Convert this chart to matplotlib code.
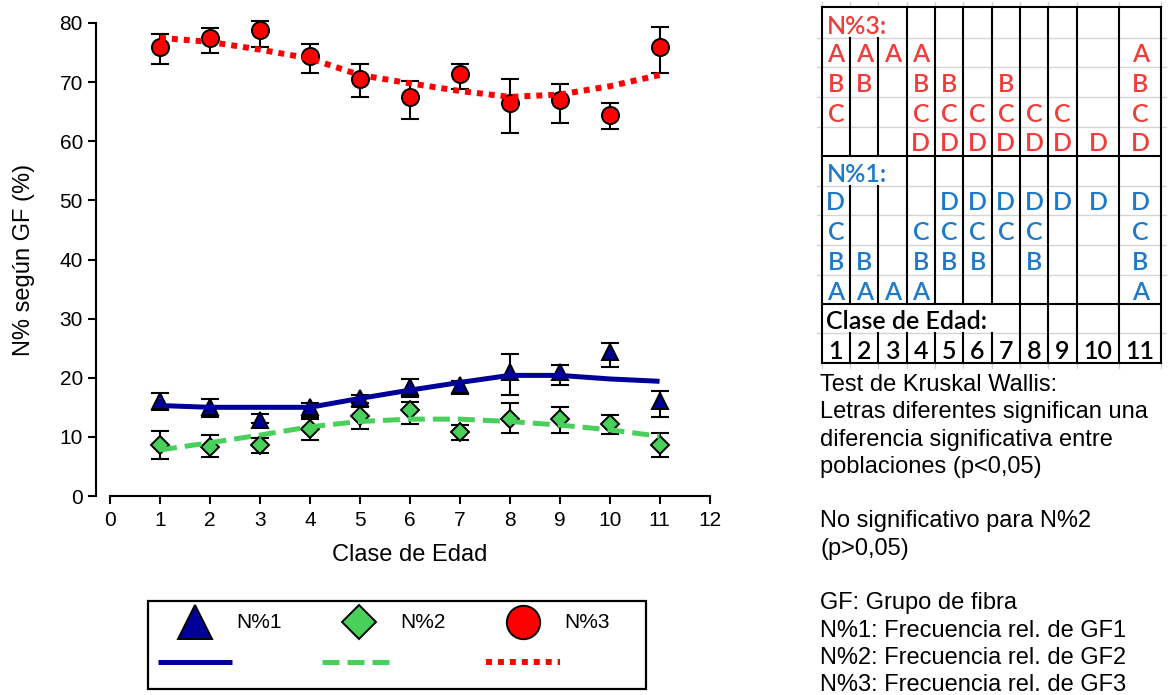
import matplotlib
matplotlib.use("Agg")
import matplotlib.pyplot as plt

plt.rcParams['font.family'] = ['Liberation Sans', 'DejaVu Sans']

# ------------------------------------------------------------------
# Data
# ------------------------------------------------------------------
age = [1, 2, 3, 4, 5, 6, 7, 8, 9, 10, 11]

# N%1 (blue triangles)
n1 = [16.0, 15.0, 12.9, 15.0, 16.5, 18.4, 18.8, 21.0, 20.9, 24.4, 16.1]
n1_lo = [14.5, 13.4, 12.3, 13.3, 15.8, 16.8, 17.2, 17.1, 18.8, 21.9, 13.4]
n1_hi = [17.5, 16.4, 13.8, 15.7, 17.1, 19.8, 19.4, 24.0, 22.2, 25.9, 17.8]
n1_fit = [15.3, 15.0, 15.0, 15.0, 16.5, 17.9, 19.2, 20.4, 20.4, 19.8, 19.4]

# N%2 (green diamonds)
n2 = [8.7, 8.3, 8.7, 11.4, 13.5, 14.5, 10.8, 13.1, 13.1, 12.1, 8.7]
n2_lo = [6.3, 6.6, 7.3, 9.4, 11.3, 12.1, 9.4, 10.7, 10.7, 10.5, 6.6]
n2_hi = [11.0, 10.3, 9.8, 13.0, 15.1, 15.9, 12.0, 15.8, 15.1, 13.7, 10.7]
n2_fit = [7.8, 9.0, 10.3, 11.7, 12.6, 13.0, 13.0, 12.6, 12.0, 11.2, 10.1]

# N%3 (red circles)
n3 = [75.9, 77.4, 78.8, 74.4, 70.6, 67.5, 71.3, 66.5, 67.0, 64.5, 76.0]
n3_lo = [73.0, 75.0, 76.0, 71.6, 67.5, 63.8, 68.9, 61.4, 63.1, 62.1, 71.6]
n3_hi = [78.1, 79.1, 80.4, 76.4, 73.0, 70.2, 73.0, 70.6, 69.6, 66.5, 79.4]
n3_fit = [77.5, 76.8, 75.5, 74.0, 71.2, 69.8, 68.5, 67.5, 67.9, 69.3, 71.2]

# Kruskal-Wallis letter groups per age class
n3_groups = {'A': [1, 2, 3, 4, 11],
             'B': [1, 2, 4, 5, 7, 11],
             'C': [1, 4, 5, 6, 7, 8, 9, 11],
             'D': [4, 5, 6, 7, 8, 9, 10, 11]}
n1_groups = {'D': [1, 5, 6, 7, 8, 9, 10, 11],
             'C': [1, 4, 5, 6, 7, 8, 11],
             'B': [1, 2, 4, 5, 6, 8, 11],
             'A': [1, 2, 3, 4, 11]}

notes = ["Test de Kruskal Wallis:",
         "Letras diferentes significan una",
         "diferencia significativa entre",
         "poblaciones (p<0,05)",
         "",
         "No significativo para N%2",
         "(p>0,05)",
         "",
         "GF: Grupo de fibra",
         "N%1: Frecuencia rel. de GF1",
         "N%2: Frecuencia rel. de GF2",
         "N%3: Frecuencia rel. de GF3"]

BLUE = '#000099'
GREEN = '#48d05a'
RED = '#ff0000'
TXT_RED = '#ef3d3a'
TXT_BLUE = '#1f78c8'

W, H = 1169, 695
fig = plt.figure(figsize=(W / 100, H / 100), dpi=100)

# ------------------------------------------------------------------
# Main plot
# ------------------------------------------------------------------
ax = fig.add_axes([110 / W, 1 - 496 / H, 599.5 / W, 473 / H])


def series(y, lo, hi, fit, marker, ms, color, ls_kw):
    err = [[v - l for v, l in zip(y, lo)], [h - v for v, h in zip(y, hi)]]
    eb = ax.errorbar(age, y, yerr=err, fmt='none', ecolor='black',
                     elinewidth=1.5, capsize=6.8, capthick=1.5, zorder=2)
    for art in eb.lines[1] + eb.lines[2]:
        art.set_clip_on(False)
    ax.plot(age, y, ls='none', marker=marker, ms=ms, mfc=color, mec='black',
            mew=1.4, zorder=3, clip_on=False)
    ax.plot(age, fit, color=color, zorder=4, **ls_kw)


solid = dict(lw=3.6, solid_capstyle='butt')
dashed = dict(lw=3.6, ls=(0, (3.4, 1.6)), dash_capstyle='butt')
dotted = dict(lw=4.3, ls=(0, (1, 1)), dash_capstyle='butt')

series(n1, n1_lo, n1_hi, n1_fit, '^', 12, BLUE, solid)
series(n2, n2_lo, n2_hi, n2_fit, 'D', 9.5, GREEN, dashed)
series(n3, n3_lo, n3_hi, n3_fit, 'o', 12.3, RED, dotted)

ax.set_xlim(0, 12)
ax.set_ylim(0, 80)
ax.set_xticks(range(0, 13))
ax.set_yticks(range(0, 81, 10))
for s in ['top', 'right']:
    ax.spines[s].set_visible(False)
for s in ['left', 'bottom']:
    ax.spines[s].set_linewidth(1.5)
ax.spines['left'].set_position(('outward', 10))
ax.tick_params(width=1.5, length=5.5, labelsize=15, pad=4)
ax.tick_params(axis='x', pad=5)
ax.set_xlabel("Clase de Edad", fontsize=17)
ax.set_ylabel("N% según GF (%)", fontsize=17)
ax.xaxis.set_label_coords(0.5, -0.102)
ax.yaxis.set_label_coords(-0.125, 0.5)

# ------------------------------------------------------------------
# Overlay in pixel coordinates: legend, letter table, notes
# ------------------------------------------------------------------
ov = fig.add_axes([0, 0, 1, 1], zorder=-1)
ov.set_xlim(0, W)
ov.set_ylim(H, 0)
ov.axis('off')

# legend box
ov.add_patch(plt.Rectangle((148, 601), 498, 88, fill=False, lw=1.6, ec='black'))
leg_items = [('^', 25, BLUE, solid, 'N%1'),
             ('D', 17.5, GREEN, dashed, 'N%2'),
             ('o', 24, RED, dotted, 'N%3')]
for i, (mk, ms, col, kw, lab) in enumerate(leg_items):
    x0 = 158 + 164 * i
    ov.plot([x0 + 37], [622], marker=mk, ms=ms, mfc=col, mec='black', mew=1.4)
    ov.text(x0 + 78, 622, lab, fontsize=15, va='center', ha='left')
    ov.plot([x0, x0 + 74], [662, 662], color=col, **kw)

# letter table
col_edges = [821.7, 850, 878.3, 906.7, 935, 963.3, 991.7, 1020, 1048.3,
             1076.7, 1119.3, 1161]
row_edges = [6.7, 38.3, 66.7, 96.7, 126.7, 155.7, 186, 215, 245, 275,
             304.3, 333.3, 363.3]
tfont = dict(family=['Lato', 'DejaVu Sans'], fontsize=18, fontweight='semibold')

# light spreadsheet gridlines
for i, y in enumerate(row_edges):
    if i not in (0, 5, 10, 12):
        ov.plot([817, 1166], [y, y], color='#d4d4d4', lw=1.0, zorder=1)
for x in col_edges:
    ov.plot([x, x], [2, row_edges[0]], color='#d4d4d4', lw=1.0, zorder=1)
    ov.plot([x, x], [row_edges[-1], 368], color='#d4d4d4', lw=1.0, zorder=1)

# black borders
blk = dict(color='black', lw=1.5, zorder=2, solid_capstyle='projecting')
for y in (row_edges[0], row_edges[5], row_edges[10], row_edges[12]):
    ov.plot([col_edges[0], col_edges[-1]], [y, y], **blk)
for j, x in enumerate(col_edges):
    if j in (0, 7, 8, 9, 10, 11):
        spans = [(row_edges[0], row_edges[12])]
    elif j in (1, 2):
        spans = [(row_edges[1], row_edges[5]), (row_edges[6], row_edges[10]),
                 (row_edges[11], row_edges[12])]
    else:
        spans = [(row_edges[0], row_edges[10]), (row_edges[11], row_edges[12])]
    for y0, y1 in spans:
        ov.plot([x, x], [y0, y1], **blk)


def cell_x(c):
    return (col_edges[c - 1] + col_edges[c]) / 2


def base(r):
    return row_edges[r + 1] - 4.5


ov.text(826.5, base(0), "N%3:", color=TXT_RED, ha='left', va='baseline', **tfont)
for r, letter in enumerate(['A', 'B', 'C', 'D'], start=1):
    for c in n3_groups[letter]:
        ov.text(cell_x(c), base(r), letter, color=TXT_RED, ha='center',
                va='baseline', **tfont)
ov.text(826.5, base(5), "N%1:", color=TXT_BLUE, ha='left', va='baseline', **tfont)
for r, letter in enumerate(['D', 'C', 'B', 'A'], start=6):
    for c in n1_groups[letter]:
        ov.text(cell_x(c), base(r), letter, color=TXT_BLUE, ha='center',
                va='baseline', **tfont)
ov.text(826.5, base(10), "Clase de Edad:", color='black', ha='left',
        va='baseline', **tfont)
for c in age:
    ov.text(cell_x(c), base(11), str(c), color='black', ha='center',
            va='baseline', **tfont)

# notes under the table
for i, line in enumerate(notes):
    ov.text(820, 391 + 27.3 * i, line, fontsize=17, ha='left', va='baseline')

fig.savefig("out.png", dpi=100)
